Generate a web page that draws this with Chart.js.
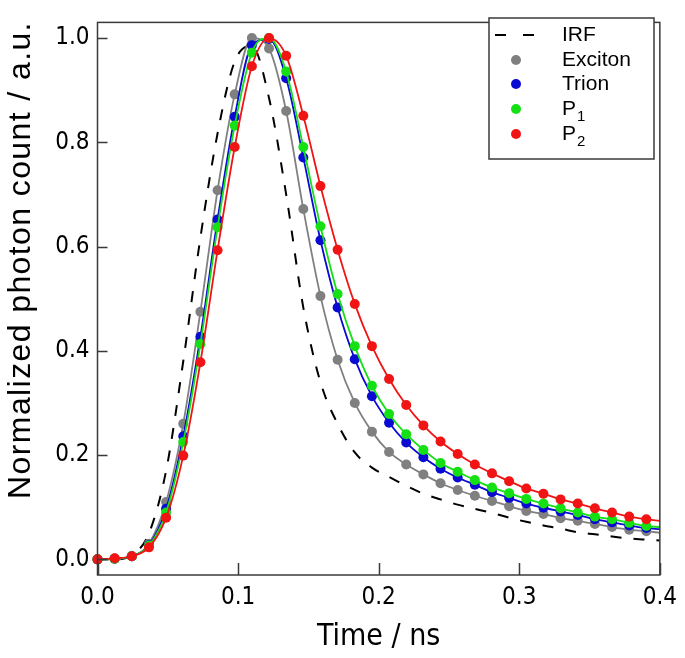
<!DOCTYPE html>
<html><head><meta charset="utf-8">
<script src="https://cdn.jsdelivr.net/npm/chart.js@4.4.0/dist/chart.umd.min.js"></script>
<style>html,body{margin:0;padding:0;background:#fff;}#wrap{position:relative;width:685px;height:658px;}</style>
</head><body><div id="wrap"><canvas id="c" width="685" height="658"></canvas></div>
<script>
// ---- data ----
const times = [0.0000, 0.0122, 0.0244, 0.0366, 0.0488, 0.0610, 0.0732, 0.0854, 0.0976, 0.1098,
  0.1220, 0.1342, 0.1464, 0.1586, 0.1708, 0.1830, 0.1952, 0.2074, 0.2196, 0.2318,
  0.2440, 0.2562, 0.2684, 0.2806, 0.2928, 0.3050, 0.3172, 0.3294, 0.3416, 0.3538,
  0.3660, 0.3782, 0.3904, 0.4000];
const irf = [0, 0.000, 0.008, 0.050, 0.170, 0.380, 0.617, 0.817, 0.955, 0.985,
  0.885, 0.700, 0.483, 0.340, 0.260, 0.205, 0.176, 0.158, 0.141, 0.126,
  0.115, 0.105, 0.097, 0.089, 0.080, 0.072, 0.065, 0.059, 0.052, 0.048,
  0.044, 0.040, 0.038, 0.036];
const exciton = [0, 0.001, 0.006, 0.030, 0.110, 0.260, 0.475, 0.708, 0.892, 1.000,
  0.980, 0.860, 0.672, 0.505, 0.383, 0.300, 0.245, 0.206, 0.182, 0.163,
  0.146, 0.133, 0.122, 0.112, 0.102, 0.093, 0.087, 0.079, 0.074, 0.068,
  0.062, 0.057, 0.054, 0.051];
const trion = [0, 0.001, 0.006, 0.027, 0.097, 0.236, 0.427, 0.652, 0.849, 0.986,
  0.998, 0.923, 0.771, 0.612, 0.483, 0.384, 0.313, 0.262, 0.224, 0.196,
  0.174, 0.157, 0.143, 0.129, 0.118, 0.107, 0.099, 0.092, 0.085, 0.077,
  0.071, 0.065, 0.060, 0.058];
const p1 = [0, 0.001, 0.006, 0.026, 0.090, 0.225, 0.413, 0.637, 0.832, 0.972,
  1.000, 0.936, 0.791, 0.639, 0.509, 0.409, 0.333, 0.279, 0.240, 0.210,
  0.185, 0.168, 0.152, 0.138, 0.127, 0.116, 0.107, 0.098, 0.090, 0.082,
  0.077, 0.070, 0.064, 0.062];
const p2 = [0, 0.002, 0.006, 0.023, 0.080, 0.199, 0.378, 0.593, 0.791, 0.946,
  1.000, 0.966, 0.851, 0.716, 0.594, 0.490, 0.409, 0.346, 0.296, 0.257,
  0.226, 0.202, 0.182, 0.165, 0.150, 0.136, 0.126, 0.115, 0.107, 0.098,
  0.090, 0.082, 0.077, 0.074];
const seriesNames = ['IRF', 'Exciton', 'Trion', 'P1', 'P2'];
const xTicks = [0.0, 0.1, 0.2, 0.3, 0.4];
const yTicks = [0.0, 0.2, 0.4, 0.6, 0.8, 1.0];
const xTitle = 'Time / ns';
const yTitle = 'Normalized photon count / a.u.';

// ---- styles ----
const colors = ['#000000', '#808080', '#0a0ad2', '#14e014', '#f01414'];
const seriesData = [irf, exciton, trion, p1, p2];
const pts = arr => arr.map((v, i) => ({x: times[i], y: v}));
const lastIdx = times.length - 1;

const datasets = seriesData.map((arr, k) => ({
  label: seriesNames[k],
  data: pts(arr),
  showLine: true,
  borderColor: colors[k],
  backgroundColor: colors[k],
  borderWidth: k === 0 ? 2 : 1.8,
  borderDash: k === 0 ? [11, 12] : [],
  pointRadius: k === 0 ? 0 : (c => c.dataIndex === lastIdx ? 0 : 5),
  pointBorderWidth: 0,
  pointHoverRadius: 0,
  cubicInterpolationMode: 'monotone',
  order: 5 - k,
  clip: {left: 12, top: 12, right: 0, bottom: 12}
}));

const FRAME = '#3a3a3a';
const tickFont = {family: "'Liberation Sans Narrow','Arial Narrow','DejaVu Sans Condensed',sans-serif", size: 24};

const decor = {
  id: 'decor',
  afterDatasetsDraw(chart) {
    const ctx = chart.ctx, a = chart.chartArea;
    const xs = chart.scales.x, ys = chart.scales.y;
    ctx.save();
    ctx.strokeStyle = FRAME; ctx.lineWidth = 1.5;
    ctx.strokeRect(a.left, a.top, a.right - a.left, a.bottom - a.top);
    ctx.beginPath();
    xs.ticks.forEach(t => { const p = Math.round(xs.getPixelForValue(t.value)) + 0.5; ctx.moveTo(p, a.bottom); ctx.lineTo(p, a.bottom - 12); });
    ys.ticks.forEach(t => { const p = Math.round(ys.getPixelForValue(t.value)) + 0.5; ctx.moveTo(a.left, p); ctx.lineTo(a.left + 10, p); });
    ctx.stroke();

    // y-axis title
    ctx.fillStyle = '#000';
    ctx.font = "32px 'Liberation Sans', Arial, sans-serif";
    if ('letterSpacing' in ctx) ctx.letterSpacing = '1.4px';
    ctx.textAlign = 'center'; ctx.textBaseline = 'middle';
    ctx.translate(21, 260); ctx.rotate(-Math.PI / 2);
    ctx.fillText(yTitle, 0, 0);
    ctx.restore();

    // legend
    ctx.save();
    const bx = 489, by = 18, bw = 165, bh = 141;
    ctx.fillStyle = '#fff'; ctx.fillRect(bx, by, bw, bh);
    ctx.strokeStyle = FRAME; ctx.lineWidth = 1.5; ctx.strokeRect(bx, by, bw, bh);
    const rowY = [35, 60, 84, 109, 134];
    ctx.textBaseline = 'middle'; ctx.textAlign = 'left';
    seriesNames.forEach((name, k) => {
      const y = rowY[k];
      if (k === 0) {
        ctx.strokeStyle = colors[0]; ctx.lineWidth = 2; ctx.setLineDash([11, 17]);
        ctx.beginPath(); ctx.moveTo(495, y); ctx.lineTo(534, y); ctx.stroke(); ctx.setLineDash([]);
      } else {
        ctx.fillStyle = colors[k]; ctx.beginPath(); ctx.arc(516, y, 5, 0, Math.PI * 2); ctx.fill();
      }
      ctx.fillStyle = '#000';
      const m = name.match(/^(\D+)(\d+)$/);
      ctx.font = "21px 'Liberation Sans', Arial, sans-serif";
      if (m) {
        ctx.fillText(m[1], 562, y);
        const w = ctx.measureText(m[1]).width;
        ctx.font = "15px 'Liberation Sans', Arial, sans-serif";
        ctx.fillText(m[2], 562 + w + 1, y + 8);
      } else {
        ctx.fillText(name, 562, y);
      }
    });
    ctx.restore();
  }
};

new Chart(document.getElementById('c'), {
  type: 'scatter',
  data: {datasets},
  options: {
    responsive: false,
    devicePixelRatio: 1,
    animation: false,
    events: [],
    layout: {padding: {left: 0, right: 18, top: 6, bottom: 0}},
    plugins: {legend: {display: false}, tooltip: {enabled: false}},
    scales: {
      x: {
        type: 'linear', min: 0, max: 0.4,
        afterBuildTicks: s => { s.ticks = xTicks.map(v => ({value: v})); },
        afterFit: s => { s.height = 83; },
        grid: {display: false, drawTicks: false},
        border: {display: false},
        ticks: {font: tickFont, color: '#000', padding: 8, maxRotation: 0, callback: v => v.toFixed(1)},
        title: {display: true, text: xTitle, color: '#000', font: {family: tickFont.family, size: 30}, padding: {top: 0, bottom: 3}}
      },
      y: {
        type: 'linear', min: -0.03, max: 1.03,
        afterBuildTicks: s => { s.ticks = yTicks.map(v => ({value: v})); },
        afterFit: s => { s.width = 97.5; },
        grid: {display: false, drawTicks: false},
        border: {display: false},
        ticks: {font: tickFont, color: '#000', padding: 8, callback: v => v.toFixed(1)}
      }
    }
  },
  plugins: [decor]
});
</script></body></html>
